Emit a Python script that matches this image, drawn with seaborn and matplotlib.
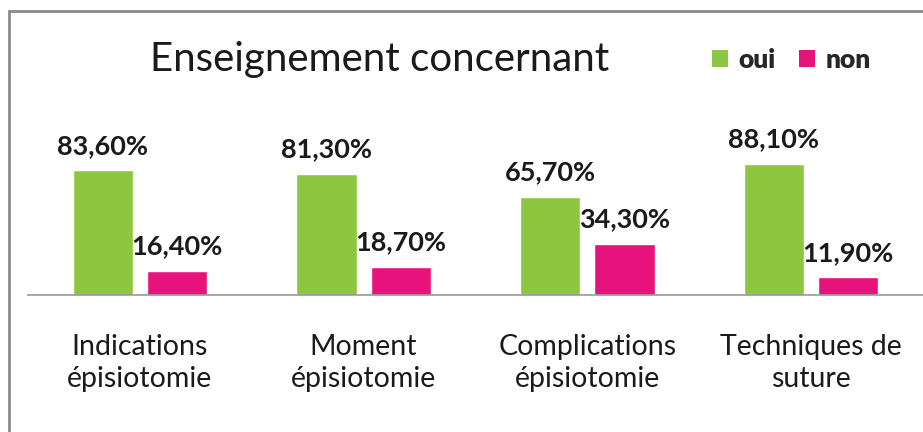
import matplotlib
matplotlib.use("Agg")
import matplotlib.pyplot as plt
import numpy as np
import pandas as pd
import seaborn as sns
from matplotlib.patches import Rectangle, Patch

sns.set_style("white")
plt.rcParams['font.family'] = ['Lato', 'DejaVu Sans']

# data
categories = ["Indications\népisiotomie", "Moment\népisiotomie",
              "Complications\népisiotomie", "Techniques de\nsuture"]
oui = [83.6, 81.3, 65.7, 88.1]
non = [16.4, 18.7, 34.3, 11.9]
series = ["oui", "non"]
colors = {"oui": "#8DC63F", "non": "#E8127C"}

df = pd.DataFrame({
    "categorie": categories * 2,
    "reponse": ["oui"] * len(oui) + ["non"] * len(non),
    "valeur": oui + non,
})

fig = plt.figure(figsize=(9.23, 4.32), dpi=100)
ax = fig.add_axes([28 / 923, 1 - 295 / 432, 1 - 28 / 923, 149 / 432])

sns.barplot(data=df, x="categorie", y="valeur", hue="reponse", hue_order=series,
            palette=colors, width=0.665, gap=0.19, saturation=1, legend=False, ax=ax)

ax.set_xlim(-0.5, 3.5)
ax.set_ylim(0, 100)

# percentage labels, French decimal comma
for cont in ax.containers:
    labels = [f"{b.get_height():.2f}".replace(".", ",") + "%" for b in cont]
    ax.bar_label(cont, labels=labels, padding=9, fontsize=19.5, fontweight="bold",
                 color="#1a1a1a")

for s in ["top", "right", "left"]:
    ax.spines[s].set_visible(False)
ax.spines["bottom"].set_color("#9a9a9a")
ax.spines["bottom"].set_linewidth(1.2)
ax.set_yticks([])
ax.set_xlabel("")
ax.set_ylabel("")
ax.tick_params(axis="x", length=0, pad=28, labelsize=20.5, labelcolor="#1a1a1a")
for t in ax.get_xticklabels():
    t.set_linespacing(1.3)

fig.text(380 / 923, 1 - 60 / 432, "Enseignement concernant", fontsize=29,
         ha="center", va="center", color="#1a1a1a")

handles = [Patch(facecolor=colors[s], edgecolor="none") for s in series]
fig.legend(handles, series, loc="center left", bbox_to_anchor=(688 / 923, 1 - 60 / 432),
           ncol=2, frameon=False, handlelength=0.6, handleheight=0.6,
           handletextpad=0.4, columnspacing=0.9,
           prop={"weight": "heavy", "size": 19})

# outer frame, clipped on the right and bottom
fig.patches.append(Rectangle((8.5 / 923, -0.1), 1.2, 1 - 11 / 432 + 0.1,
                             transform=fig.transFigure, fill=False,
                             edgecolor="#8a8a8a", linewidth=2))

fig.savefig("out.png", dpi=100)
